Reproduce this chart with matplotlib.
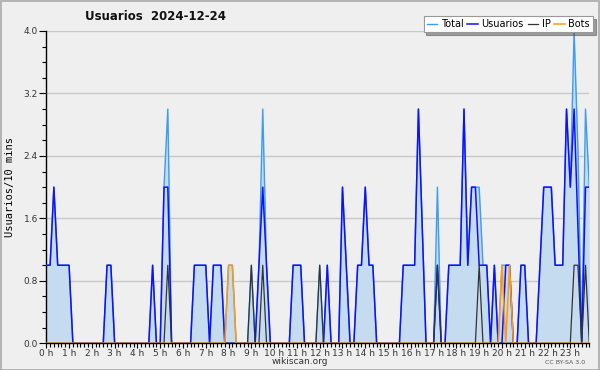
import matplotlib
matplotlib.use("Agg")
import matplotlib.pyplot as plt
from matplotlib.patches import Rectangle
from matplotlib.ticker import MultipleLocator
import numpy as np

# valores cada 10 minutos (6 por hora)
total = [
    1, 1, 2, 1, 1, 1,   1, 0, 0, 0, 0, 0,   0, 0, 0, 0, 1, 1,   0, 0, 0, 0, 0, 0,
    0, 0, 0, 0, 1, 0,   0, 2, 3, 0, 0, 0,   0, 0, 0, 1, 1, 1,   1, 0, 1, 1, 1, 0,
    1, 1, 0, 0, 0, 0,   1, 0, 1, 3, 1, 0,   0, 0, 0, 0, 0, 1,   1, 1, 0, 0, 0, 0,
    1, 0, 1, 0, 0, 0,   2, 1, 0, 0, 1, 1,   2, 1, 1, 0, 0, 0,   0, 0, 0, 0, 1, 1,
    1, 1, 3, 1.5, 0, 0, 0, 2, 0, 0, 1, 1,   1, 1, 3, 1, 2, 2,   2, 1, 1, 0, 1, 0,
    1, 1, 1, 0, 0, 1,   1, 0, 0, 0, 1, 2,   2, 2, 1, 1, 1, 3,   2, 4, 2.5, 0, 3, 2,
]
usuarios = [
    1, 1, 2, 1, 1, 1,   1, 0, 0, 0, 0, 0,   0, 0, 0, 0, 1, 1,   0, 0, 0, 0, 0, 0,
    0, 0, 0, 0, 1, 0,   0, 2, 2, 0, 0, 0,   0, 0, 0, 1, 1, 1,   1, 0, 1, 1, 1, 0,
    0, 0, 0, 0, 0, 0,   0, 0, 1, 2, 1, 0,   0, 0, 0, 0, 0, 1,   1, 1, 0, 0, 0, 0,
    0, 0, 1, 0, 0, 0,   2, 1, 0, 0, 1, 1,   2, 1, 1, 0, 0, 0,   0, 0, 0, 0, 1, 1,
    1, 1, 3, 1.5, 0, 0, 0, 1, 0, 0, 1, 1,   1, 1, 3, 1, 2, 2,   1, 1, 1, 0, 1, 0,
    0, 1, 1, 0, 0, 1,   1, 0, 0, 0, 1, 2,   2, 2, 1, 1, 1, 3,   2, 3, 1.5, 0, 2, 2,
]
ip = [
    0, 0, 0, 0, 0, 0,   0, 0, 0, 0, 0, 0,   0, 0, 0, 0, 0, 0,   0, 0, 0, 0, 0, 0,
    0, 0, 0, 0, 0, 0,   0, 0, 1, 0, 0, 0,   0, 0, 0, 0, 0, 0,   0, 0, 0, 0, 0, 0,
    0, 0, 0, 0, 0, 0,   1, 0, 0, 1, 0, 0,   0, 0, 0, 0, 0, 0,   0, 0, 0, 0, 0, 0,
    1, 0, 0, 0, 0, 0,   0, 0, 0, 0, 0, 0,   0, 0, 0, 0, 0, 0,   0, 0, 0, 0, 0, 0,
    0, 0, 0, 0, 0, 0,   0, 1, 0, 0, 0, 0,   0, 0, 0, 0, 0, 0,   1, 0, 0, 0, 0, 0,
    0, 0, 0, 0, 0, 0,   0, 0, 0, 0, 0, 0,   0, 0, 0, 0, 0, 0,   0, 1, 1, 0, 1, 0,
]
bots = [
    0, 0, 0, 0, 0, 0,   0, 0, 0, 0, 0, 0,   0, 0, 0, 0, 0, 0,   0, 0, 0, 0, 0, 0,
    0, 0, 0, 0, 0, 0,   0, 0, 0, 0, 0, 0,   0, 0, 0, 0, 0, 0,   0, 0, 0, 0, 0, 0,
    1, 1, 0, 0, 0, 0,   0, 0, 0, 0, 0, 0,   0, 0, 0, 0, 0, 0,   0, 0, 0, 0, 0, 0,
    0, 0, 0, 0, 0, 0,   0, 0, 0, 0, 0, 0,   0, 0, 0, 0, 0, 0,   0, 0, 0, 0, 0, 0,
    0, 0, 0, 0, 0, 0,   0, 0, 0, 0, 0, 0,   0, 0, 0, 0, 0, 0,   0, 0, 0, 0, 0, 0,
    1, 0, 1, 0, 0, 0,   0, 0, 0, 0, 0, 0,   0, 0, 0, 0, 0, 0,   0, 0, 0, 0, 0, 0,
]
hour_labels = ["%d h" % h for h in range(24)]

x = np.arange(len(total)) / 6.0
bg = "#efeff0"

fig = plt.figure(figsize=(6, 3.7), dpi=100, facecolor=bg)
ax = fig.add_axes([46.3 / 600, 1 - 343.3 / 370, (589.3 - 46.3) / 600, (343.3 - 31) / 370])
ax.set_facecolor(bg)

ax.fill_between(x, total, 0, color="#c5dcf0", lw=0, zorder=1)
ax.plot(x, total, color="#3a9cf2", lw=1.0, label="Total", zorder=3)
ax.plot(x, usuarios, color="#1010ff", lw=1.1, label="Usuarios", zorder=4)
ax.plot(x, ip, color="#333333", lw=0.9, label="IP", zorder=5)
ax.plot(x, bots, color="#ff9a10", lw=1.1, label="Bots", zorder=5)

ax.set_xlim(0, x[-1])
ax.set_ylim(0, 4)
ax.set_yticks(np.arange(0, 4.01, 0.8))
ax.set_yticklabels(["%.1f" % v for v in np.arange(0, 4.01, 0.8)])
ax.yaxis.set_minor_locator(MultipleLocator(0.2))
ax.set_xticks(np.arange(24))
ax.set_xticklabels(hour_labels)
ax.xaxis.set_minor_locator(MultipleLocator(1 / 6.0))
ax.grid(axis="y", color="#c8c8c8", lw=1.0, zorder=0)
ax.set_axisbelow(True)

for s in ["top", "right"]:
    ax.spines[s].set_visible(False)
for s in ["left", "bottom"]:
    ax.spines[s].set_color("black")
    ax.spines[s].set_linewidth(1.0)

ax.tick_params(axis="y", which="major", labelsize=6.5, length=5, width=0.8,
               pad=1, labelcolor="#333333")
ax.tick_params(axis="y", which="minor", length=3, width=0.8)
ax.tick_params(axis="x", which="major", labelsize=6.5, length=3.5, width=0.8,
               pad=0.5, labelcolor="#333333")
ax.tick_params(axis="x", which="minor", length=3, width=0.8)

ax.set_ylabel("Usuarios/10 mins", family="DejaVu Sans Mono", fontsize=7.5, labelpad=6)

fig.text(85 / 600, 1 - 17 / 370, "Usuarios  2024-12-24", fontsize=8.5,
         fontweight="bold", va="center", ha="left", color="#111111")

leg = fig.legend(loc="upper right", bbox_to_anchor=(593 / 600, 1 - 16 / 370), ncol=4,
                 fontsize=7, frameon=True, shadow=True, fancybox=False,
                 handlelength=1.1, handletextpad=0.35, columnspacing=0.4,
                 borderpad=0.3, borderaxespad=0)
leg.get_frame().set_edgecolor("#999999")
leg.get_frame().set_linewidth(0.8)

fig.text(300 / 600, 1 - 362 / 370, "wikiscan.org", fontsize=6.5, ha="center",
         va="center", color="#333333")
fig.text(565 / 600, 1 - 362 / 370, "CC BY-SA 3.0", fontsize=4.5, ha="center",
         va="center", color="#555555")

fig.patches.append(Rectangle((0.001, 0.001), 0.997, 0.997, transform=fig.transFigure,
                             fill=False, edgecolor="#aaaaaa", lw=1.2))

fig.savefig("out.png", dpi=100, facecolor=bg)
